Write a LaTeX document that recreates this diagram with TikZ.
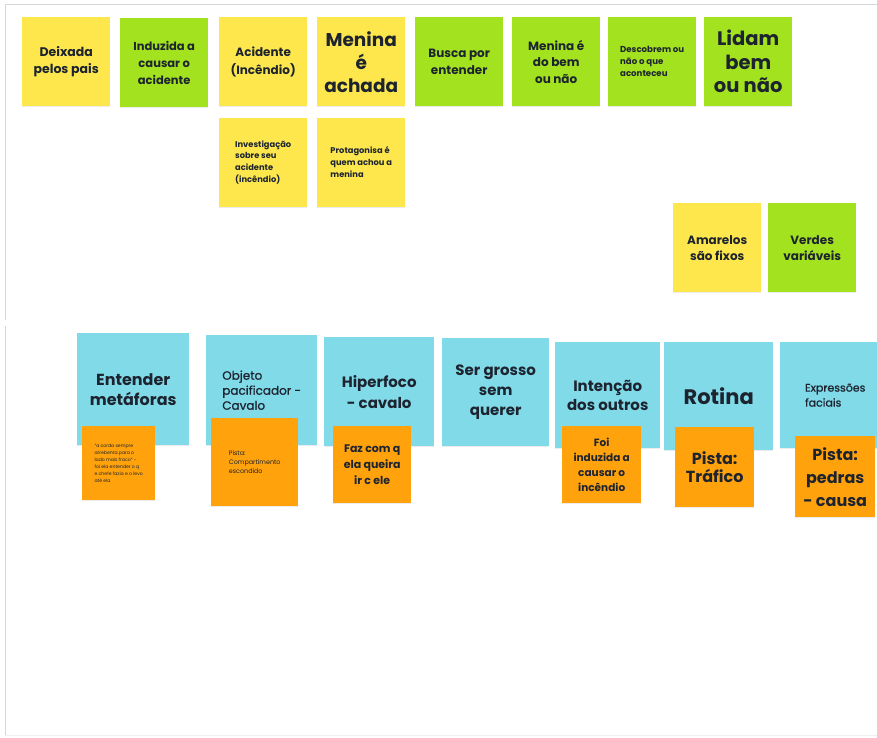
\documentclass[tikz,border=0pt]{standalone}
\usepackage{fontspec}
\setmainfont{Poppins}
\newfontfamily\semifont{Poppins}[FakeBold=0.9]
\usepackage{xcolor}
\usepackage{tikz}
\usetikzlibrary{positioning,shadows}
\definecolor{stickyyel}{HTML}{FDE74C}
\definecolor{stickygrn}{HTML}{A3E21E}
\definecolor{stickyblu}{HTML}{80DAE8}
\definecolor{stickyorg}{HTML}{FFA20C}
\definecolor{ink}{HTML}{1D2430}
\definecolor{boardline}{HTML}{D4D6DC}
\newcommand\sz[2]{\fontsize{#1}{#2}\selectfont}

\begin{document}
\begin{tikzpicture}[x=1pt, y=-1pt,
  note/.style={anchor=north west, inner sep=2pt, align=center, text=ink,
    drop shadow={shadow xshift=0pt, shadow yshift=-1.2pt, opacity=0.15}},
  yel/.style={note, fill=stickyyel},
  grn/.style={note, fill=stickygrn},
  blu/.style={note, fill=stickyblu},
  org/.style={note, fill=stickyorg},
  sq/.style={minimum width=88pt, minimum height=89pt},
  board/.style={draw=boardline, line width=0.8pt}
]
  \useasboundingbox (0,0) rectangle (877,737);
  \clip (0,0) rectangle (877,737);
  \draw[board] (877,4) -- (5,4) -- (5,320);
  \draw[board] (5,326) -- (5,735);
  \draw[board, draw opacity=0.4] (5,735) -- (877,735);

  \node[yel, sq, font=\bfseries\sz{12.5}{17}] (deixada) at (22,17) {Deixada\\pelos pais};
  \node[grn, sq, font=\bfseries\sz{11.5}{17}] (induzida) at (120,18) {Induzida a\\causar o\\acidente};
  \node[yel, sq, font=\bfseries\sz{12}{18}] (acidente) at (219,17) {Acidente\\(Incêndio)};
  \node[yel, sq, font=\bfseries\sz{18.5}{23}] (achada) at (317,17) {Menina\\é\\achada};
  \node[grn, sq, font=\bfseries\sz{12}{17}] (busca) at (415,17) {Busca por\\entender};
  \node[grn, sq, font=\bfseries\sz{12}{16.5}] (dobem) at (512,17) {Menina é\\do bem\\ou não};
  \node[grn, sq, font=\bfseries\sz{8.6}{12}, align=left] (descobrem) at (608,17) {Descobrem ou\\não o que\\aconteceu};
  \node[grn, sq, font=\bfseries\sz{19.5}{23.5}] (lidam) at (704,17) {Lidam\\bem\\ou não};
  \node[yel, sq, font=\bfseries\sz{8.3}{11.7}, align=left, below=11pt of acidente] (investiga) {Investigação\\sobre seu\\acidente\\(incêndio)};
  \node[yel, sq, font=\bfseries\sz{8.3}{11.7}, align=left, below=11pt of achada] (protagonisa) {Protagonisa é\\quem achou a\\menina};
  \node[yel, sq, font=\bfseries\sz{12}{16}] (amarelos) at (673,203) {Amarelos\\são fixos};
  \node[grn, sq, font=\bfseries\sz{12}{16}] (verdes) at (768,203) {Verdes\\variáveis};

  \node[blu, minimum width=112pt, minimum height=112pt, font=\bfseries\sz{16}{20}] (metaforas) at (77,333) {Entender\\metáforas};
  \node[blu, minimum width=111pt, minimum height=110pt, font=\semifont\sz{12}{15}, align=left] (objeto) at (206,335) {Objeto\\pacificador -\\Cavalo};
  \node[blu, minimum width=110pt, minimum height=109pt, font=\bfseries\sz{15}{21}] (hiperfoco) at (324,337) {Hiperfoco\\- cavalo};
  \node[blu, minimum width=107pt, minimum height=108pt, font=\bfseries\sz{15}{20}] (grosso) at (442,338) {Ser grosso\\sem\\querer};
  \node[blu, minimum width=105pt, minimum height=106pt, font=\bfseries\sz{15}{19}] (intencao) at (555,342) {Intenção\\dos outros};
  \node[blu, minimum width=109pt, minimum height=108pt, font=\bfseries\sz{21}{24}] (rotina) at (664,342) {Rotina};
  \node[blu, minimum width=110pt, minimum height=106pt, font=\semifont\sz{11}{15}, align=left] (expressoes) at (780,342) {Expressões\\faciais};

  \node[org, minimum width=73pt, minimum height=74pt, font=\sz{4.6}{6.9}, align=left] (corda) at (82,426) {“a corda sempre\\arrebenta para o\\lado mais fraco” -\\foi ela entender o q\\e chefe fazia e o levo\\até ela};
  \node[org, minimum width=87pt, minimum height=88pt, font=\sz{6.4}{9}, align=left] (pistacomp) at (211,418) {Pista:\\Compartimento\\escondido};
  \node[org, minimum width=78pt, minimum height=77pt, font=\bfseries\sz{11}{16}] (fazcom) at (333,426) {Faz com q\\ela queira\\ir c ele};
  \node[org, minimum width=79pt, minimum height=77pt, font=\bfseries\sz{10.5}{15}] (foi) at (562,426) {Foi\\induzida a\\causar o\\incêndio};
  \node[org, minimum width=79pt, minimum height=80pt, font=\bfseries\sz{16}{18}] (trafico) at (675,427) {Pista:\\Tráfico};
  \node[org, minimum width=80pt, minimum height=81pt, font=\bfseries\sz{16}{23}] (pedras) at (795,436) {Pista:\\pedras\\- causa};
\end{tikzpicture}
\end{document}
